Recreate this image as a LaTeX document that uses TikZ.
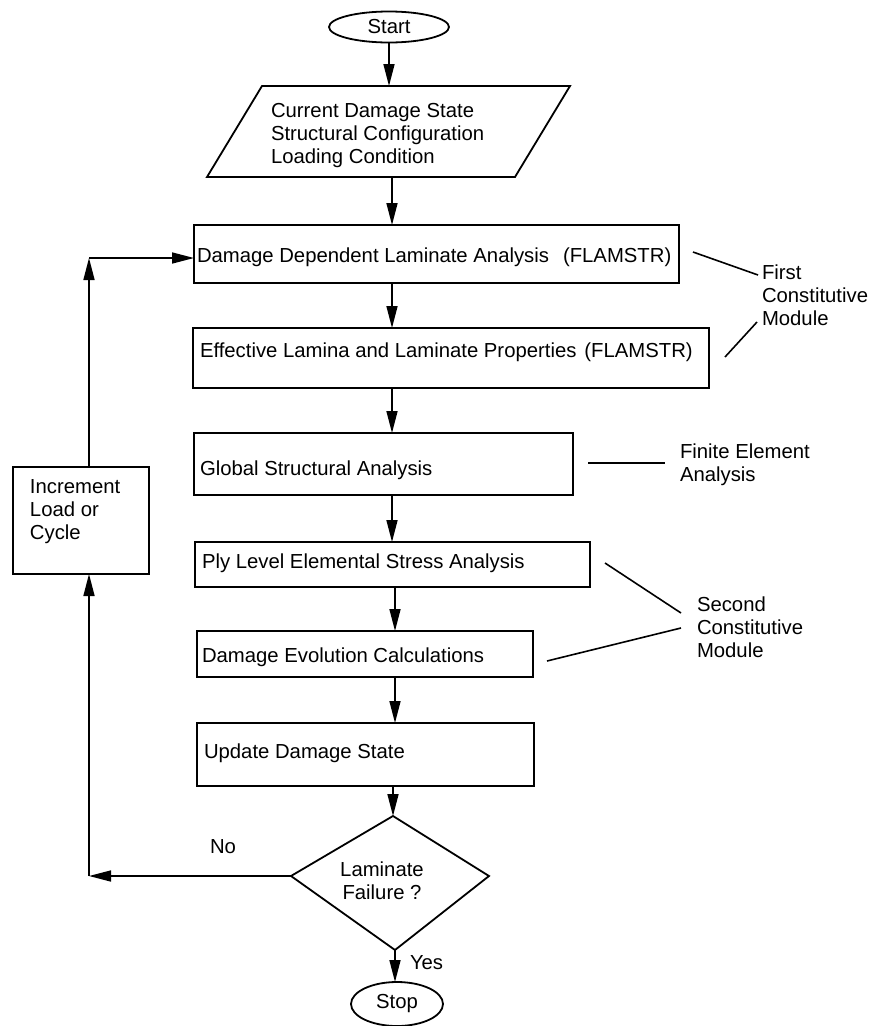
\documentclass[tikz,border=0pt]{standalone}
\usepackage{fontspec}
\setmainfont{Liberation Sans}
\usetikzlibrary{arrows.meta,shapes.geometric}
\begin{document}
\begin{tikzpicture}[x=1pt,y=-1pt, line width=1.8pt,
  every node/.style={font=\fontsize{20.3}{23}\selectfont, inner sep=0pt, outer sep=0pt},
  box/.style={draw, rectangle, anchor=north west},
  oval/.style={draw, ellipse},
  arr/.style={-{Triangle[length=22pt,width=11pt]}, line width=1.6pt},
  lead/.style={line width=1.6pt},
  txt/.style={anchor=west, align=left}]
\useasboundingbox (0,0) rectangle (870,1026);
\fill[white] (0,0) rectangle (870,1026);

% start
\node[oval, minimum width=120pt, minimum height=31pt] (start) at (389,27) {Start};

% parallelogram
\coordinate (p1) at (262,86);
\coordinate (p2) at (570,86);
\coordinate (p3) at (515,177);
\coordinate (p4) at (207,177);
\draw (p1) -- (p2) -- (p3) -- (p4) -- cycle;
\node[draw=none, minimum width=200pt, minimum height=91pt] (para) at (390,131.5) {};
\node[txt] (ptext) at (271,136) {Current Damage State\\Structural Configuration\\Loading Condition};

% boxes
\node[box, minimum width=485pt, minimum height=58pt] (b1) at (194,225) {};
\node[box, minimum width=516pt, minimum height=60pt] (b2) at (193,328) {};
\node[box, minimum width=379pt, minimum height=62pt] (b3) at (194,433) {};
\node[box, minimum width=395pt, minimum height=45pt] (b4) at (195,542) {};
\node[box, minimum width=336pt, minimum height=46pt] (b5) at (197,631) {};
\node[box, minimum width=337pt, minimum height=63pt] (b6) at (197,723) {};
\node[box, minimum width=136pt, minimum height=107pt] (incr) at (13,467) {};

\node[txt] (t1) at (197,257) {Damage Dependent Laminate Analysis\hspace{14pt}(FLAMSTR)};
\node[txt] (t2) at (200,352) {Effective Lamina and Laminate Properties\hspace{8pt}(FLAMSTR)};
\node[txt] (t3) at (200,470) {Global Structural Analysis};
\node[txt] (t4) at (202,563) {Ply Level Elemental Stress Analysis};
\node[txt] (t5) at (202,657) {Damage Evolution Calculations};
\node[txt] (t6) at (204,753) {Update Damage State};
\node[txt] (ti) at (30,512) {Increment\\Load or\\Cycle};

% decision
\coordinate (dt) at (393,816);
\coordinate (dr) at (489,876);
\coordinate (db) at (395,950);
\coordinate (dl) at (291,876);
\draw (dt) -- (dr) -- (db) -- (dl) -- cycle;
\node[align=center] (dec) at (382,881) {Laminate\\Failure ?};

% stop
\node[oval, minimum width=92pt, minimum height=44pt] (stop) at (397,1004) {Stop};

% main arrows
\coordinate (sp) at (392,0);
\coordinate (sq) at (395,0);
\draw[arr] (start.south) -- (para.north -| start.south);
\draw[arr] (para.south -| sp) -- (b1.north -| sp);
\draw[arr] (b1.south -| sp) -- (b2.north -| sp);
\draw[arr] (b2.south -| sp) -- (b3.north -| sp);
\draw[arr] (b3.south -| sp) -- (b4.north -| sp);
\draw[arr] (b4.south -| sq) -- (b5.north -| sq);
\draw[arr] (b5.south -| sq) -- (b6.north -| sq);
\draw[arr] (b6.south -| dt) -- (dt);
\draw[arr] (db) -- (stop.north -| db);

% loop
\coordinate (c1) at (89,876);
\coordinate (c2) at (89,258);
\draw[arr] (dl) -- (c1);
\draw[arr] (c1) -- (incr.south -| c1);
\draw[arr] (incr.north -| c2) -- (c2);
\draw[arr] (c2) -- (b1.west |- c2);

\node[txt] (no) at (210,847) {No};
\node[txt] (yes) at (410,963) {Yes};

% annotations
\node[txt] (lfirst) at (762,295) {First\\Constitutive\\Module};
\node[txt] (lfem) at (680,465) {Finite Element\\Analysis};
\node[txt] (lsec) at (697,627) {Second\\Constitutive\\Module};

\coordinate (a1s) at (693,252); \coordinate (a1e) at (758,275);
\coordinate (a2s) at (725,357); \coordinate (a2e) at (757,322);
\coordinate (fs) at (588,463);  \coordinate (fe) at (665,463);
\coordinate (s1s) at (605,563); \coordinate (s1e) at (681,613);
\coordinate (s2s) at (547,661); \coordinate (s2e) at (681,628);
\draw[lead] (a1s) -- (a1e);
\draw[lead] (a2s) -- (a2e);
\draw[lead] (fs) -- (fe);
\draw[lead] (s1s) -- (s1e);
\draw[lead] (s2s) -- (s2e);
\end{tikzpicture}
\end{document}
